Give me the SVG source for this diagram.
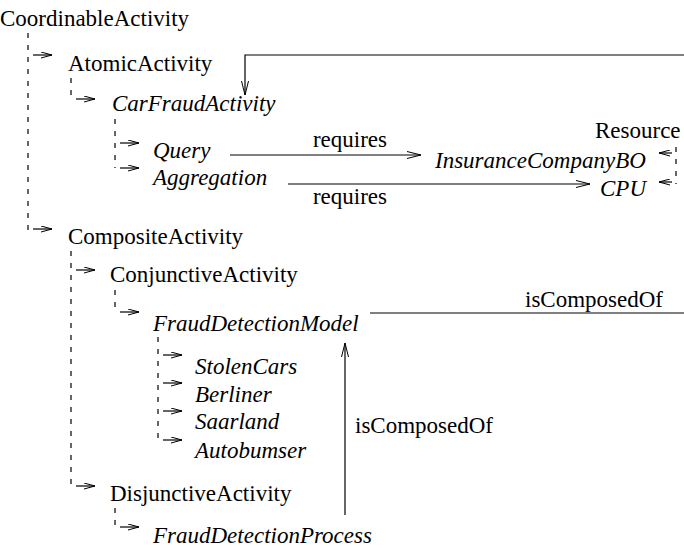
<svg xmlns="http://www.w3.org/2000/svg" width="684" height="550" viewBox="0 0 684 550">
<defs>
<style>
text{font-family:"Liberation Serif","Times New Roman","DejaVu Serif",serif;font-size:23px;fill:#000}
.i{font-style:italic}
.l{fill:none;stroke:#000;stroke-width:1.2}
.d{fill:none;stroke:#000;stroke-width:1.2;stroke-dasharray:5 7}
</style>
<marker id="big" viewBox="0 0 14 8" refX="14" refY="4" markerWidth="14" markerHeight="8" markerUnits="userSpaceOnUse" orient="auto">
<path d="M0,0.5 L14,4 L0,7.5" fill="none" stroke="#000" stroke-width="1"/>
</marker>
<marker id="sm" viewBox="0 0 11 7" refX="11" refY="3.5" markerWidth="11" markerHeight="7" markerUnits="userSpaceOnUse" orient="auto">
<path d="M0,0.5 L11,3.5 L0,6.5" fill="none" stroke="#000" stroke-width="1"/>
</marker>
</defs>
<rect width="684" height="550" fill="#fff"/>
<g id="connectors">
<path class="d" d="M28,33 V232"/>
<path class="l" d="M33,55 H52" marker-end="url(#sm)"/>
<path class="l" d="M33,229 H52" marker-end="url(#sm)"/>
<path class="d" d="M71,78 V100"/>
<path class="l" d="M76,99 H95" marker-end="url(#sm)"/>
<path class="d" d="M115,119 V168"/>
<path class="l" d="M120,143 H139" marker-end="url(#sm)"/>
<path class="l" d="M120,168 H139" marker-end="url(#sm)"/>
<path class="d" d="M71,251 V487"/>
<path class="l" d="M76,270 H95" marker-end="url(#sm)"/>
<path class="l" d="M76,486 H95" marker-end="url(#sm)"/>
<path class="d" d="M115,290 V313"/>
<path class="l" d="M120,312 H139" marker-end="url(#sm)"/>
<path class="d" d="M158,337 V440"/>
<path class="l" d="M163,355 H182" marker-end="url(#sm)"/>
<path class="l" d="M163,383 H182" marker-end="url(#sm)"/>
<path class="l" d="M163,411 H182" marker-end="url(#sm)"/>
<path class="l" d="M163,440 H182" marker-end="url(#sm)"/>
<path class="d" d="M115,508 V528"/>
<path class="l" d="M120,527 H139" marker-end="url(#sm)"/>
<path class="d" d="M676,147 V184"/>
<path class="l" d="M672,153 H659" marker-end="url(#sm)"/>
<path class="l" d="M672,182 H659" marker-end="url(#sm)"/>
<path class="l" d="M684,55 H245 V95" marker-end="url(#big)"/>
<path class="l" d="M230,155 H421" marker-end="url(#big)"/>
<path class="l" d="M288,184 H590" marker-end="url(#big)"/>
<path class="l" d="M370,313 H684"/>
<path class="l" d="M345,515 V343" marker-end="url(#big)"/>
<text x="350" y="147" text-anchor="middle">requires</text>
<text x="350" y="204" text-anchor="middle">requires</text>
<text x="525" y="307">isComposedOf</text>
<text x="355" y="433">isComposedOf</text>
</g>
<g id="CoordinableActivity"><text x="0" y="26">CoordinableActivity</text></g>
<g id="AtomicActivity"><text x="68" y="71">AtomicActivity</text></g>
<g id="CarFraudActivity"><text class="i" x="112" y="111">CarFraudActivity</text></g>
<g id="Query"><text class="i" x="153" y="158">Query</text></g>
<g id="Aggregation"><text class="i" x="153" y="185">Aggregation</text></g>
<g id="Resource"><text x="595" y="138">Resource</text></g>
<g id="InsuranceCompanyBO"><text class="i" x="435" y="168">InsuranceCompanyBO</text></g>
<g id="CPU"><text class="i" x="600" y="196">CPU</text></g>
<g id="CompositeActivity"><text x="68" y="244">CompositeActivity</text></g>
<g id="ConjunctiveActivity"><text x="110" y="282">ConjunctiveActivity</text></g>
<g id="FraudDetectionModel"><text class="i" x="153" y="331">FraudDetectionModel</text></g>
<g id="StolenCars"><text class="i" x="195" y="374">StolenCars</text></g>
<g id="Berliner"><text class="i" x="195" y="402">Berliner</text></g>
<g id="Saarland"><text class="i" x="195" y="429">Saarland</text></g>
<g id="Autobumser"><text class="i" x="195" y="458">Autobumser</text></g>
<g id="DisjunctiveActivity"><text x="110" y="501">DisjunctiveActivity</text></g>
<g id="FraudDetectionProcess"><text class="i" x="153" y="543">FraudDetectionProcess</text></g>
</svg>
